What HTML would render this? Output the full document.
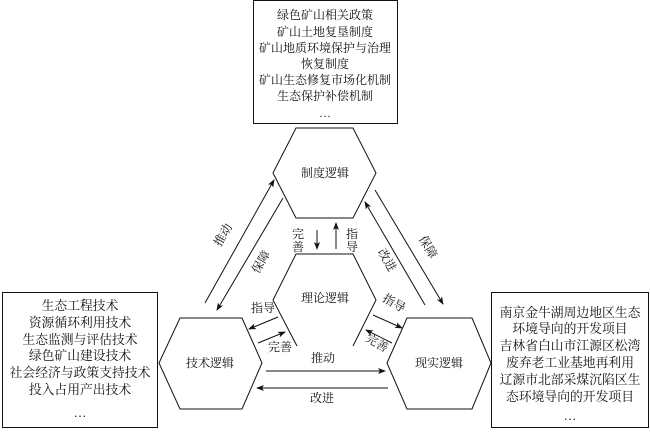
<!DOCTYPE html>
<html><head><meta charset="utf-8"><style>
html,body{margin:0;padding:0;background:#fff;}
svg text{font-family:"Liberation Serif","Noto Serif CJK SC","Noto Sans CJK SC",serif;font-size:12px;fill:#111;}
svg text.b{font-size:12.8px;}
</style></head><body>
<svg width="650" height="429" viewBox="0 0 650 429" xmlns="http://www.w3.org/2000/svg">
<defs><marker id="a" markerWidth="8" markerHeight="8" refX="7" refY="4" orient="auto" markerUnits="userSpaceOnUse"><path d="M0,1 L8,4 L0,7 L2,4 Z" fill="#111"/></marker></defs>
<g fill="none" stroke="#111" stroke-width="1">
<rect x="253.5" y="0.5" width="144" height="123"/>
<rect x="2.5" y="292.5" width="155" height="135"/>
<rect x="491.5" y="292.5" width="157" height="135"/>
<polygon points="273,173 296,128 353,128 376,173 353,218 296,218"/>
<polyline points="297,346 273,300 296,254 353,254 376,300 353,346"/>
<polygon points="159,363 180,318 242,318 262,363 242,409 180,409"/>
<polygon points="387,363 407,318 472,318 491,363 472,409 407,409"/>
<g marker-end="url(#a)">
<line x1="205" y1="303" x2="274" y2="180"/>
<line x1="283" y1="198" x2="217" y2="310"/>
<line x1="375" y1="190" x2="443" y2="304"/>
<line x1="425" y1="305" x2="365" y2="202"/>
<line x1="317" y1="230" x2="317" y2="249"/>
<line x1="336" y1="249" x2="336" y2="223"/>
<line x1="278" y1="317" x2="249" y2="329"/>
<line x1="258" y1="343" x2="285" y2="332"/>
<line x1="373" y1="315" x2="402" y2="328"/>
<line x1="392" y1="343" x2="366" y2="330"/>
<line x1="266" y1="371" x2="385" y2="371"/>
<line x1="388" y1="388" x2="257" y2="388"/>
</g>
</g>
<g text-anchor="middle">
<text x="325" y="19">绿色矿山相关政策</text>
<text x="325" y="36">矿山土地复垦制度</text>
<text x="325" y="52">矿山地质环境保护与治理</text>
<text x="325" y="68">恢复制度</text>
<text x="325" y="84">矿山生态修复市场化机制</text>
<text x="325" y="100">生态保护补偿机制</text>
<text x="325" y="117">…</text>
<text class="b" x="80" y="310">生态工程技术</text>
<text class="b" x="80" y="327">资源循环利用技术</text>
<text class="b" x="80" y="344">生态监测与评估技术</text>
<text class="b" x="80" y="360">绿色矿山建设技术</text>
<text class="b" x="80" y="377">社会经济与政策支持技术</text>
<text class="b" x="80" y="394">投入占用产出技术</text>
<text class="b" x="80" y="417">…</text>
<text class="b" x="570" y="317">南京金牛湖周边地区生态</text>
<text class="b" x="570" y="333">环境导向的开发项目</text>
<text class="b" x="570" y="350">吉林省白山市江源区松湾</text>
<text class="b" x="570" y="367">废弃老工业基地再利用</text>
<text class="b" x="570" y="384">辽源市北部采煤沉陷区生</text>
<text class="b" x="570" y="401">态环境导向的开发项目</text>
<text class="b" x="570" y="420">…</text>
<text x="325" y="177">制度逻辑</text>
<text x="325" y="302">理论逻辑</text>
<text x="210" y="367">技术逻辑</text>
<text x="439" y="367">现实逻辑</text>
<text x="323" y="362">推动</text>
<text x="322" y="402">改进</text>
<text x="263" y="312">指导</text>
<text x="280" y="351">完善</text>
<text x="223" y="239" transform="rotate(-60 223 235)">推动</text>
<text x="261" y="266" transform="rotate(-60 261 262)">保障</text>
<text x="387" y="264" transform="rotate(60 387 260)">改进</text>
<text x="428" y="251" transform="rotate(60 428 247)">保障</text>
<text x="394" y="307" transform="rotate(30 394 303)">指导</text>
<text x="377" y="347" transform="rotate(30 377 343)">完善</text>
<text x="298" y="238">完</text>
<text x="298" y="251">善</text>
<text x="352" y="238">指</text>
<text x="352" y="251">导</text>
</g>
</svg>
</body></html>
